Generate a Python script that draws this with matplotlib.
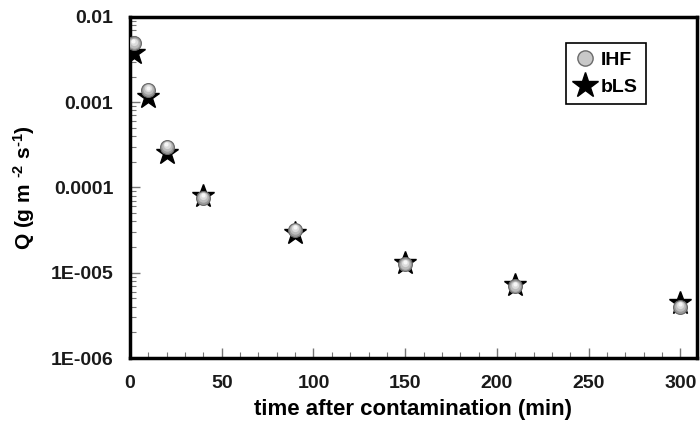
import matplotlib
matplotlib.use("Agg")
import matplotlib.pyplot as plt
import matplotlib.transforms as mtransforms
from matplotlib.ticker import FixedLocator, FixedFormatter, MultipleLocator, LogLocator, NullFormatter
from matplotlib.lines import Line2D

plt.rcParams['font.family'] = ['Liberation Sans', 'DejaVu Sans']
plt.rcParams['mathtext.fontset'] = 'custom'
plt.rcParams['mathtext.rm'] = 'Liberation Sans:bold'
plt.rcParams['mathtext.bf'] = 'Liberation Sans:bold'
plt.rcParams['mathtext.default'] = 'bf'

# data
time_min = [2, 10, 20, 40, 90, 150, 210, 300]
q_ihf = [0.0049, 0.00139, 0.00030, 7.6e-5, 3.2e-5, 1.25e-5, 6.9e-6, 4.0e-6]
q_bls = [0.0038, 0.00115, 0.000255, 8.0e-5, 2.9e-5, 1.3e-5, 7.2e-6, 4.4e-6]
y_ticks = [1e-6, 1e-5, 1e-4, 1e-3, 1e-2]
y_tick_labels = ["1E-006", "1E-005", "0.0001", "0.001", "0.01"]
x_ticks = [0, 50, 100, 150, 200, 250, 300]

fig = plt.figure(figsize=(7.0, 4.29), dpi=100)
ax = fig.add_axes([0.1857, 0.1655, 0.81, 0.795])

# bLS stars (underneath)
ax.plot(time_min, q_bls, linestyle='none', marker='*', markersize=17,
        color='black', markeredgecolor='black', zorder=3)

# IHF spheres: base + highlight layers
ax.plot(time_min, q_ihf, linestyle='none', marker='o', markersize=10,
        markerfacecolor='#9a9a9a', markeredgecolor='#6a6a6a', markeredgewidth=0.8, zorder=4)
shifts = [(0.0, 0.6, 7.5, '#bdbdbd'), (0.0, 1.2, 5.2, '#dcdcdc'), (-0.3, 1.8, 3.0, '#f7f7f7')]
for dx, dy, ms, col in shifts:
    tr = mtransforms.offset_copy(ax.transData, fig=fig, x=dx, y=dy, units='points')
    ax.plot(time_min, q_ihf, linestyle='none', marker='o', markersize=ms,
            markerfacecolor=col, markeredgecolor='none', transform=tr, zorder=5)

ax.set_yscale('log')
ax.set_xlim(0, 309)
ax.set_ylim(1e-6, 1e-2)

ax.yaxis.set_major_locator(FixedLocator(y_ticks))
ax.yaxis.set_major_formatter(FixedFormatter(y_tick_labels))
ax.yaxis.set_minor_locator(LogLocator(base=10, subs=range(2, 10)))
ax.yaxis.set_minor_formatter(NullFormatter())
ax.xaxis.set_major_locator(FixedLocator(x_ticks))
ax.xaxis.set_minor_locator(MultipleLocator(10))

ax.tick_params(axis='both', which='both', direction='in', top=False, right=False,
               color='#777777')
ax.tick_params(axis='both', which='major', length=7, width=1.0, labelsize=14)
ax.tick_params(axis='y', which='major', pad=12)
ax.tick_params(axis='x', which='major', pad=12)
ax.tick_params(axis='both', which='minor', length=4, width=0.8)
for lab in ax.get_xticklabels() + ax.get_yticklabels():
    lab.set_color('#1a1a1a')
    lab.set_fontweight('bold')

for sp in ax.spines.values():
    sp.set_linewidth(2.5)
    sp.set_color('black')

ax.set_xlabel('time after contamination (min)', fontsize=16, fontweight='bold', labelpad=5)
ax.set_ylabel(r'Q (g m $^{\text{-2}}$ s$^{\text{-1}}$)', fontsize=15, fontweight='bold', labelpad=10)

h1 = Line2D([], [], linestyle='none', marker='o', markersize=11,
            markerfacecolor='#c8c8c8', markeredgecolor='#6a6a6a')
h2 = Line2D([], [], linestyle='none', marker='*', markersize=19, color='black')
leg = ax.legend([h1, h2], ['IHF', 'bLS'], loc='upper right',
                bbox_to_anchor=(0.910, 0.924), borderaxespad=0, frameon=True, fancybox=False,
                edgecolor='black', framealpha=1, handlelength=1.0, handletextpad=0.3,
                borderpad=0.45, labelspacing=0.45, prop={'weight': 'bold', 'size': 14})
leg.get_frame().set_linewidth(1.2)

fig.savefig('out.png', dpi=100)
